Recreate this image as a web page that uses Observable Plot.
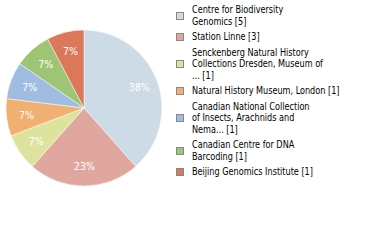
<!DOCTYPE html>
<html>
<head>
<meta charset="utf-8">
<script src="https://cdn.jsdelivr.net/npm/d3@7"></script>
<script src="https://cdn.jsdelivr.net/npm/@observablehq/plot@0.6"></script>
<style>
  html, body { margin: 0; padding: 0; background: #fff; }
  #wrap { position: relative; width: 380px; height: 240px; overflow: hidden; }
  #chart { position: absolute; left: 0; top: 0; }
  #legend { position: absolute; left: 176px; top: 4px; font-family: "DejaVu Sans", sans-serif; font-stretch: condensed; font-size: 10.5px; color: #000; }
  .item { display: flex; align-items: center; margin-bottom: 4px; }
  .sw { width: 8px; height: 8px; border: 1px solid #888; box-sizing: border-box; margin-right: 8px; flex: none; }
  .lab { line-height: 11.5px; white-space: nowrap; transform: scaleX(0.86); transform-origin: left center; }
</style>
</head>
<body>
<div id="wrap">
  <div id="chart"></div>
  <div id="legend"></div>
</div>
<script>
const categories = [
  "Centre for Biodiversity Genomics",
  "Station Linne",
  "Senckenberg Natural History Collections Dresden, Museum of ...",
  "Natural History Museum, London",
  "Canadian National Collection of Insects, Arachnids and Nema...",
  "Canadian Centre for DNA Barcoding",
  "Beijing Genomics Institute"
];
const labelLines = [
  ["Centre for Biodiversity", "Genomics [5]"],
  ["Station Linne [3]"],
  ["Senckenberg Natural History", "Collections Dresden, Museum of", "... [1]"],
  ["Natural History Museum, London [1]"],
  ["Canadian National Collection", "of Insects, Arachnids and", "Nema... [1]"],
  ["Canadian Centre for DNA", "Barcoding [1]"],
  ["Beijing Genomics Institute [1]"]
];
const counts = [5, 3, 1, 1, 1, 1, 1];
const colors = ["#cddbe6", "#e0a79e", "#dde39d", "#f0b072", "#9ebde0", "#9dc574", "#dc785a"];

const total = d3.sum(counts);
const arcs = d3.pie().sort(null).value(d => d)(counts);
const data = categories.map((c, i) => {
  const a = arcs[i];
  const mid = (a.startAngle + a.endAngle) / 2;
  return {
    name: c, value: counts[i], color: colors[i],
    start: a.startAngle, end: a.endAngle,
    lx: 0.75 * Math.sin(mid), ly: 0.75 * Math.cos(mid),
    pct: Math.floor(counts[i] / total * 100) + "%"
  };
});

function pieMark(index, scales, values, dimensions, context) {
  const cx = scales.x(0), cy = scales.y(0);
  const r = scales.x(1) - scales.x(0);
  const arc = d3.arc().innerRadius(0).outerRadius(r);
  const g = d3.create("svg:g");
  g.selectAll("path").data(data).join("path")
    .attr("transform", `translate(${cx},${cy})`)
    .attr("d", d => arc({startAngle: d.start, endAngle: d.end}))
    .attr("fill", d => d.color)
    .attr("stroke", "#fff")
    .attr("stroke-width", 0.5);
  return g.node();
}

const plot = Plot.plot({
  width: 380,
  height: 240,
  margin: 0,
  x: {domain: [-1, 1], range: [6, 162], axis: null},
  y: {domain: [-1, 1], range: [186, 30], axis: null},
  style: {background: "transparent"},
  marks: [
    pieMark,
    Plot.text(data, {
      x: "lx", y: "ly", text: "pct", fill: "white",
      fontSize: 10.5, fontFamily: "DejaVu Sans Condensed, DejaVu Sans, sans-serif",
      letterSpacing: "1.2px"
    })
  ]
});
document.getElementById("chart").appendChild(plot);

const legend = d3.select("#legend");
const items = legend.selectAll(".item").data(data).join("div").attr("class", "item");
items.append("div").attr("class", "sw").style("background", d => d.color);
items.append("div").attr("class", "lab").html((d, i) => labelLines[i].join("<br>"));
</script>
</body>
</html>
